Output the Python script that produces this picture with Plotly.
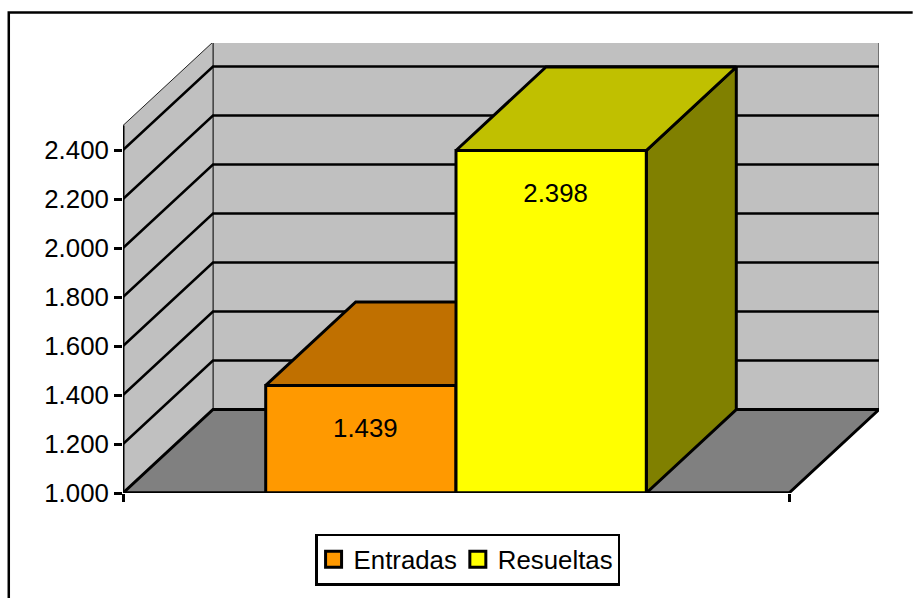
import plotly.graph_objects as go

# Data
series_names = ["Entradas", "Resueltas"]
series_values = [1439, 2398]
value_labels = ["1.439", "2.398"]
tick_values = [1000, 1200, 1400, 1600, 1800, 2000, 2200, 2400]
tick_labels = ["1.000", "1.200", "1.400", "1.600", "1.800", "2.000", "2.200", "2.400"]
front_colors = ["#FF9900", "#FFFF00"]
top_colors = ["#C07000", "#C0C000"]
side_colors = ["#804C00", "#808000"]

# Oblique projection, in axis units
Y_MIN, Y_WALL_TOP = 1000, 2500
DEPTH_X = 90 / 666
DEPTH_Y = 83.5 / 0.245
GAP = 0.75
BAR_W = 1 / (2 + 2 * GAP)
LABEL_DROP = 185
LABEL_SHIFT = 4.5 / 666

L, T, PW, PH = 122.8, 43, 756.5, 450
FONT = dict(family="Liberation Sans, Arial, sans-serif", size=25.8, color="black")

fig = go.Figure()


def poly(xs, ys, fill, width=2.5, color="black"):
    fig.add_trace(go.Scatter(x=xs, y=ys, mode="lines", fill="toself", fillcolor=fill,
                             line=dict(color=color, width=width), showlegend=False,
                             hoverinfo="skip", cliponaxis=False))


def seg(xs, ys, width=2.5):
    fig.add_trace(go.Scatter(x=xs, y=ys, mode="lines", line=dict(color="black", width=width),
                             showlegend=False, hoverinfo="skip", cliponaxis=False))


# Walls and floor
poly([DEPTH_X, 1 + DEPTH_X, 1 + DEPTH_X, DEPTH_X, DEPTH_X],
     [Y_MIN + DEPTH_Y, Y_MIN + DEPTH_Y, Y_WALL_TOP + DEPTH_Y, Y_WALL_TOP + DEPTH_Y, Y_MIN + DEPTH_Y],
     "#C0C0C0", 1, "#222222")
poly([0, DEPTH_X, DEPTH_X, 0, 0],
     [Y_MIN, Y_MIN + DEPTH_Y, Y_WALL_TOP + DEPTH_Y, Y_WALL_TOP, Y_MIN],
     "#C0C0C0", 1, "#222222")
poly([0, 1, 1 + DEPTH_X, DEPTH_X, 0],
     [Y_MIN, Y_MIN, Y_MIN + DEPTH_Y, Y_MIN + DEPTH_Y, Y_MIN],
     "#808080", 3)

# Gridlines on side and back walls
for v in tick_values[1:]:
    seg([0, DEPTH_X, 1 + DEPTH_X], [v, v + DEPTH_Y, v + DEPTH_Y])

# Bars
for i, v in enumerate(series_values):
    x0 = GAP * BAR_W + i * BAR_W
    x1 = x0 + BAR_W
    poly([x1, x1 + DEPTH_X, x1 + DEPTH_X, x1, x1],
         [Y_MIN, Y_MIN + DEPTH_Y, v + DEPTH_Y, v, Y_MIN], side_colors[i], 3)
    poly([x0, x1, x1 + DEPTH_X, x0 + DEPTH_X, x0],
         [v, v, v + DEPTH_Y, v + DEPTH_Y, v], top_colors[i], 3)
    poly([x0, x1, x1, x0, x0], [Y_MIN, Y_MIN, v, v, Y_MIN], front_colors[i], 3)

# Axis lines
seg([0, 0], [Y_MIN, Y_WALL_TOP], 3)
seg([0, 1], [Y_MIN, Y_MIN], 3)

# Data labels
fig.add_trace(go.Scatter(
    x=[GAP * BAR_W + (i + 0.5) * BAR_W + LABEL_SHIFT for i in range(len(series_values))],
    y=[v - LABEL_DROP for v in series_values],
    mode="text", text=value_labels, textposition="middle center",
    textfont=FONT, showlegend=False, hoverinfo="skip"))

# Legend entries
for name, c in zip(series_names, front_colors):
    fig.add_trace(go.Scatter(x=[None], y=[None], mode="markers", name=name,
                             marker=dict(symbol="square", size=16, color=c,
                                         line=dict(color="black", width=3))))


def px(x):
    return (x - L) / PW


def py(y):
    return 1 - (y - T) / PH


fig.add_shape(type="path", xref="paper", yref="paper",
              path=f"M {px(8.5)} {py(598)} L {px(8.5)} {py(12.5)} L {px(913)} {py(12.5)}",
              line=dict(color="black", width=2.5))

fig.update_layout(
    width=913, height=598, autosize=False,
    margin=dict(l=L, r=913 - L - PW, t=T, b=598 - T - PH, pad=0, autoexpand=False),
    paper_bgcolor="white", plot_bgcolor="white", font=FONT,
    xaxis=dict(range=[0, 1 + DEPTH_X], tickvals=[0, 1], ticktext=["", ""], ticks="outside",
               ticklen=8, tickwidth=2.5, tickcolor="black", showgrid=False, zeroline=False,
               showline=False, fixedrange=True),
    yaxis=dict(range=[Y_MIN, Y_MIN + PH / 0.245], tickvals=tick_values, ticktext=tick_labels,
               ticks="outside", ticklen=8, tickwidth=2.5, tickcolor="black", showgrid=False,
               zeroline=False, showline=False, fixedrange=True, tickfont=FONT),
    legend=dict(orientation="h", x=px(315), y=py(533.5), xanchor="left", yanchor="top",
                bordercolor="black", borderwidth=2.5, bgcolor="white", font=FONT,
                itemwidth=30, indentation=-4),
    showlegend=True,
)

fig.write_html("out.html", config=dict(displayModeBar=False),
               post_script="document.body.style.margin='0';")
